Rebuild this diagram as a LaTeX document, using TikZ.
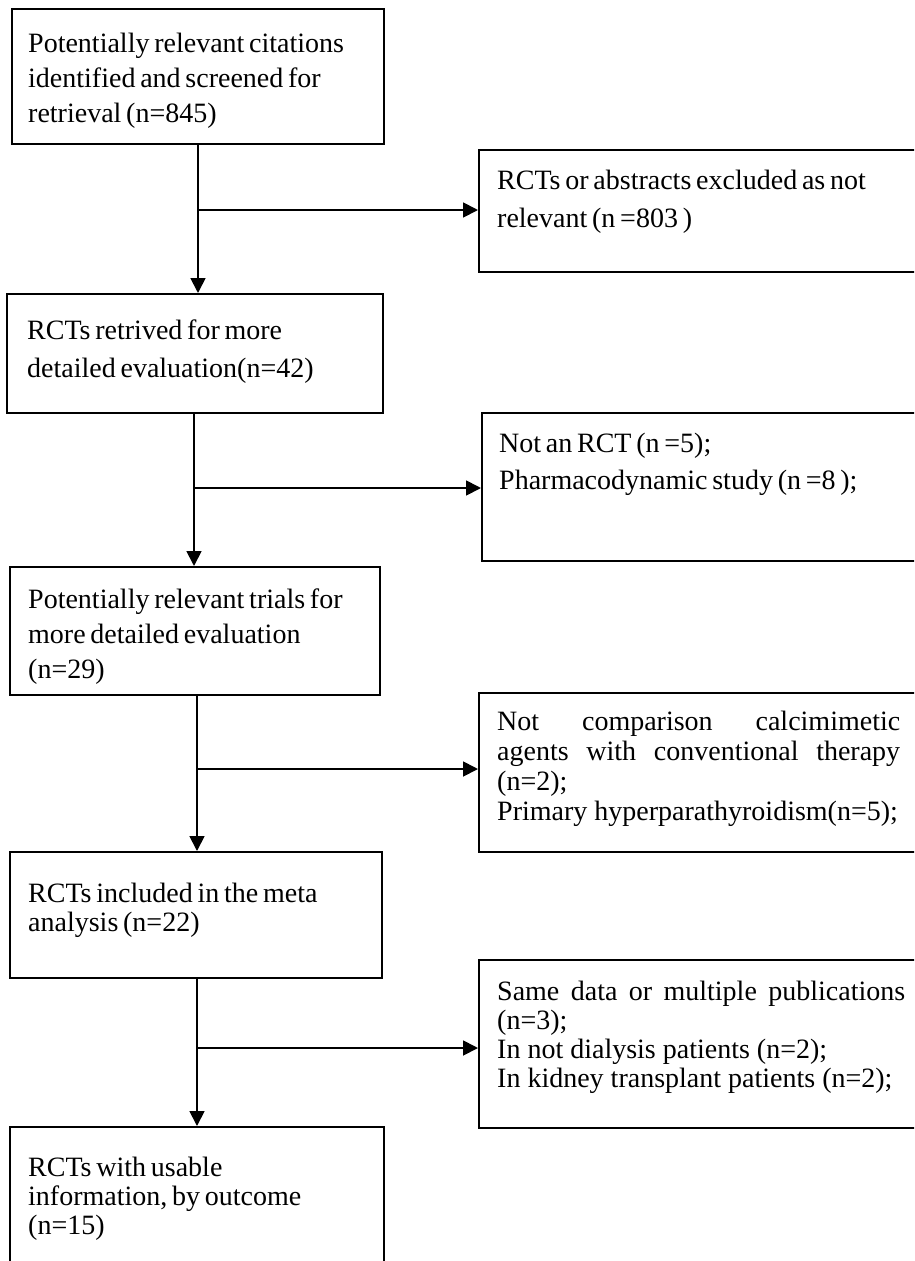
\documentclass[tikz,border=0pt]{standalone}
\usepackage{fontspec}
\setmainfont{Liberation Serif}
\usetikzlibrary{arrows.meta}
\newcommand{\tightspaces}{\spaceskip=0.17em plus 0.1em minus 0.05em\relax}
\begin{document}
\begin{tikzpicture}[x=1pt,y=-1pt,
  box/.style={draw=black, line width=1.8pt, inner sep=0pt, anchor=north west},
  txt/.style={anchor=base west, inner sep=0pt, font=\fontsize{28}{#1}\selectfont, execute at begin node=\tightspaces, text width=350pt, align=left},
  txt/.default=35,
  jtxt/.style={anchor=base west, inner sep=0pt, font=\fontsize{28}{#1}\selectfont, text width=406pt, align=justify},
  arr/.style={line width=1.8pt, -{Triangle[length=15pt,width=15pt]}},
  ln/.style={line width=1.8pt}
]
\useasboundingbox (0,0) rectangle (914,1261);
\fill[white] (0,0) rectangle (914,1261);
\clip (0,0) rectangle (914,1261);

% left column boxes
\node[box, minimum width=372pt, minimum height=135pt] (b1) at (11,8) {};
\node[box, minimum width=376pt, minimum height=119pt] (b2) at (6,293) {};
\node[box, minimum width=370pt, minimum height=128pt] (b3) at (9,566) {};
\node[box, minimum width=372pt, minimum height=126pt] (b4) at (9,851) {};
\node[box, minimum width=374pt, minimum height=160pt] (b5) at (9,1126) {};

% right column boxes (cut by the right edge)
\node[box, minimum width=460pt, minimum height=122pt] (r1) at (478,149) {};
\node[box, minimum width=460pt, minimum height=148pt] (r2) at (481,412) {};
\node[box, minimum width=460pt, minimum height=159pt] (r3) at (478,692) {};
\node[box, minimum width=460pt, minimum height=168pt] (r4) at (478,959) {};

% texts
\node[txt=35] (t1) at (28,52) {Potentially relevant citations\\identified and screened for\\retrieval (n=845)};
\node[txt=38] (t2) at (27,339) {RCTs retrived for more\\detailed evaluation(n=42)};
\node[txt=35] (t3) at (28,608) {Potentially relevant trials for\\more detailed evaluation\\(n=29)};
\node[txt=29] (t4) at (28,902) {RCTs included in the meta\\analysis (n=22)};
\node[txt=29] (t5) at (28,1176) {RCTs with usable\\information, by outcome\\(n=15)};

\node[txt=38, text width=400pt] (u1) at (497,189) {RCTs or abstracts excluded as not\\relevant (n =803 )};
\node[txt=37, text width=400pt] (u2) at (499,452) {Not an RCT (n =5);\\Pharmacodynamic study (n =8 );};
\node[jtxt=30, text width=403pt] (u3) at (497,730) {Not comparison calcimimetic\linebreak agents with conventional therapy\linebreak (n=2);\\Primary hyperparathyroidism(n=5);};
\node[jtxt=29, text width=408pt] (u4) at (497,1000) {Same data or multiple publications\linebreak (n=3);\\In not dialysis patients (n=2);\\In kidney transplant patients (n=2);};

% junction points
\coordinate (j1) at (198,210);
\coordinate (j2) at (194,488);
\coordinate (j3) at (197,769);
\coordinate (j4) at (197,1048);

% main flow
\draw[arr] (j1 |- b1.south) -- (j1 |- b2.north);
\draw[arr] (j2 |- b2.south) -- (j2 |- b3.north);
\draw[arr] (j3 |- b3.south) -- (j3 |- b4.north);
\draw[arr] (j4 |- b4.south) -- (j4 |- b5.north);

% exclusion branches
\draw[arr] (j1) -- (j1 -| r1.west);
\draw[arr] (j2) -- (j2 -| r2.west);
\draw[arr] (j3) -- (j3 -| r3.west);
\draw[arr] (j4) -- (j4 -| r4.west);
\end{tikzpicture}
\end{document}
